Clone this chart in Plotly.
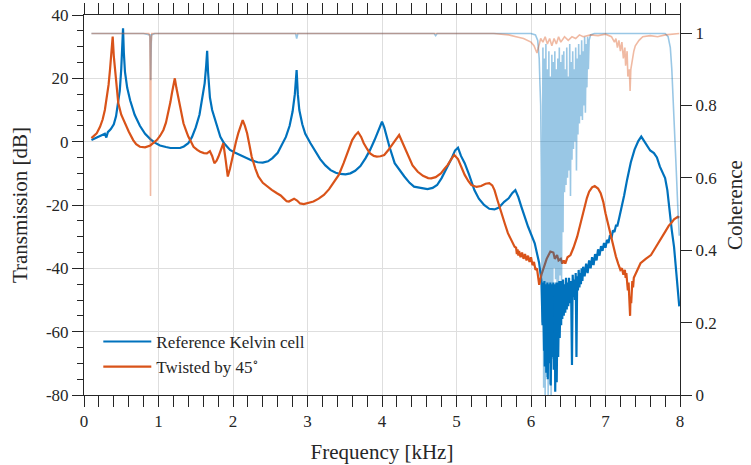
import plotly.graph_objects as go

# ---------------- data ----------------
# Reference Kelvin cell: transmission [dB] vs frequency [kHz]
ref_freq = [0.10, 0.15, 0.20, 0.25, 0.28, 0.30, 0.32, 0.36, 0.40, 0.43, 0.46, 0.48, 0.50, 0.51, 0.524,
            0.535, 0.55, 0.58, 0.62, 0.68, 0.75, 0.82, 0.89, 0.95, 1.02, 1.10, 1.16, 1.22, 1.29, 1.34,
            1.40, 1.45, 1.50, 1.55, 1.59, 1.62, 1.64, 1.653, 1.665, 1.69, 1.72, 1.75, 1.78, 1.83, 1.88,
            1.96, 2.03, 2.10, 2.18, 2.26, 2.33, 2.40, 2.47, 2.53, 2.60, 2.66, 2.71, 2.76, 2.80, 2.83,
            2.854, 2.87, 2.89, 2.93, 2.97, 3.04, 3.10, 3.17, 3.24, 3.31, 3.38, 3.44, 3.51, 3.575, 3.64,
            3.71, 3.78, 3.84, 3.90, 3.95, 4.00, 4.03, 4.07, 4.10, 4.17, 4.25, 4.30, 4.37, 4.43, 4.50,
            4.55, 4.61, 4.68, 4.74, 4.80, 4.87, 4.93, 4.98, 5.02, 5.06, 5.11, 5.17, 5.24, 5.30, 5.37,
            5.44, 5.51, 5.57, 5.64, 5.70, 5.75, 5.79, 5.83, 5.87, 5.96, 6.05, 6.11,
            6.14, 6.145, 6.15, 6.155, 6.16, 6.165, 6.17, 6.175, 6.18, 6.185, 6.19, 6.195, 6.20, 6.205,
            6.21, 6.215, 6.22, 6.225, 6.23, 6.235, 6.24, 6.245, 6.25, 6.255, 6.26, 6.265, 6.27, 6.275,
            6.28, 6.285, 6.29, 6.295, 6.30, 6.305, 6.31, 6.315, 6.32, 6.325, 6.33, 6.335, 6.34, 6.345,
            6.35, 6.355, 6.36, 6.365, 6.37, 6.375, 6.38, 6.385, 6.39, 6.395, 6.40, 6.405,
            6.41, 6.42, 6.43, 6.44, 6.45, 6.46, 6.47, 6.48, 6.49, 6.50, 6.51, 6.52, 6.53, 6.54, 6.55,
            6.56, 6.57, 6.58, 6.59, 6.60, 6.61, 6.62, 6.63, 6.64, 6.65, 6.66, 6.67, 6.68, 6.69, 6.70,
            6.72, 6.74, 6.76, 6.78, 6.80, 6.82, 6.84, 6.86, 6.88, 6.90, 6.92, 6.94, 6.96, 6.98, 7.00,
            7.02, 7.04, 7.06, 7.08, 7.10, 7.12, 7.14, 7.16, 7.18,
            7.20, 7.25, 7.29, 7.34, 7.39, 7.44, 7.48, 7.52, 7.56, 7.60, 7.65, 7.69, 7.73, 7.76, 7.80,
            7.83, 7.86, 7.89, 7.92, 7.94, 7.95, 7.97, 7.99]
ref_tl = [0.5, 1.0, 1.5, 2.0, 2.5, 1.3, 3.0, 4.0, 5.5, 8.0, 12.0, 16.0, 23.0, 28.0, 35.8,
          28.0, 22.0, 17.0, 13.0, 8.5, 5.0, 2.5, 0.8, -0.3, -1.2, -1.7, -2.0, -2.0, -2.0, -1.5,
          -0.5, 1.5, 4.5, 8.5, 13.5, 18.5, 24.0, 28.7, 22.0, 14.0, 10.0, 7.5, 5.0, 1.5, -0.5,
          -2.6, -3.5, -4.3, -5.3, -6.0, -6.5, -6.6, -6.2, -5.2, -3.5, -1.0, 1.5, 5.0, 9.5, 15.0,
          22.6, 15.0, 10.0, 5.5, 2.5, -0.5, -3.0, -5.5, -7.5, -9.0, -9.8, -10.2, -10.3, -10.0, -9.2,
          -7.7, -5.2, -2.6, 0.5, 3.5, 6.3, 4.5, 1.0, -1.6, -6.8, -9.5, -11.0, -13.0, -14.2, -14.5,
          -14.8, -15.0, -14.6, -13.7, -11.5, -8.4, -5.5, -2.8, -1.9, -4.5, -6.8, -10.5, -15.3, -18.0, -20.0,
          -21.2, -21.4, -20.8, -19.0, -17.9, -16.2, -15.3, -17.5, -20.5, -26.8, -32.1, -38.4,
          -44.0, -52, -46, -58, -44.5, -63, -46.5, -66, -44, -71, -46, -60, -45, -73,
          -47, -62, -44.5, -75, -46, -65, -45, -70, -47, -61, -44.5, -77, -46, -64,
          -45, -68, -47, -60, -44.5, -72, -46, -63, -45, -79, -46.5, -70, -44.5, -76,
          -46, -66, -44.5, -68, -46, -60, -44, -62, -45.5, -57, -44, -58,
          -45, -56, -43.5, -55, -45, -54, -43, -53, -44.5, -52, -43, -51, -44, -50, -70.5,
          -42, -49, -43.5, -50, -41.5, -68, -42.5, -47, -40.5, -46, -41.5, -45, -40, -44, -39.5,
          -42.5, -38.5, -41.5, -37.5, -40, -36.5, -39, -35.5, -37.5, -34, -36, -33, -34.5, -32, -33.5,
          -31, -32, -29.5, -30.5, -28, -28.5, -26.5, -26.5, -24.5,
          -22.6, -17.0, -12.0, -6.5, -2.5, 0.2, 1.6, 0.2, -1.6, -2.8, -3.6, -5.0, -7.9, -9.5, -11.5,
          -15.3, -22.6, -28.0, -33.2, -38.0, -40.0, -46.8, -52.0]

# Twisted by 45 degrees: transmission [dB] vs frequency [kHz]
tw_freq = [0.10, 0.17, 0.215, 0.25, 0.28, 0.31, 0.33, 0.35, 0.37, 0.385, 0.40, 0.417, 0.44, 0.46, 0.50,
           0.53, 0.57, 0.60, 0.66, 0.70, 0.75, 0.82, 0.89, 0.93, 0.977, 1.02, 1.066, 1.10, 1.13, 1.16,
           1.18, 1.20, 1.219, 1.24, 1.27, 1.30, 1.335, 1.37, 1.40, 1.44, 1.47, 1.52, 1.56, 1.61, 1.65,
           1.69, 1.72, 1.75, 1.78, 1.805, 1.84, 1.87, 1.90, 1.93, 1.96, 2.00, 2.04, 2.07, 2.10, 2.13,
           2.16, 2.19, 2.22, 2.25, 2.30, 2.34, 2.40, 2.46, 2.52, 2.59, 2.64, 2.68, 2.72, 2.75, 2.79,
           2.82, 2.86, 2.90, 2.95, 3.00, 3.08, 3.15, 3.22, 3.29, 3.35, 3.42, 3.485, 3.55, 3.60, 3.64,
           3.68, 3.72, 3.755, 3.80, 3.84, 3.89, 3.93, 3.98, 4.03, 4.08, 4.12, 4.18, 4.23, 4.28, 4.35,
           4.41, 4.48, 4.55, 4.62, 4.66, 4.72, 4.79, 4.84, 4.88, 4.93, 4.97, 5.02, 5.07, 5.11, 5.16,
           5.20, 5.27, 5.33, 5.39, 5.44, 5.48, 5.51, 5.55, 5.60, 5.65, 5.69, 5.74, 5.78, 5.80, 5.81,
           5.82, 5.83, 5.84, 5.86, 5.88, 5.90, 5.92, 5.94, 5.96, 5.98, 6.00, 6.02, 6.04, 6.06, 6.08,
           6.11, 6.14, 6.17, 6.21, 6.26, 6.30, 6.32, 6.35, 6.37, 6.40, 6.42, 6.44, 6.46, 6.49, 6.53,
           6.57, 6.62, 6.66, 6.71, 6.75, 6.78, 6.82, 6.855, 6.90, 6.935, 6.97, 7.00, 7.04, 7.07, 7.11,
           7.14, 7.17, 7.20, 7.22, 7.24, 7.26, 7.27, 7.28, 7.30, 7.31, 7.32, 7.33, 7.335, 7.345, 7.36,
           7.37, 7.38, 7.40, 7.42, 7.47, 7.54, 7.61, 7.67, 7.74, 7.80, 7.85, 7.88, 7.92, 7.97, 7.99]
tw_tl = [1.1, 2.6, 4.7, 7.0, 10.0, 14.0, 18.0, 23.0, 28.0, 33.2, 27.0, 22.6, 16.0, 12.2, 8.5,
         6.8, 4.5, 3.2, 0.5, -0.8, -1.6, -1.8, -1.2, -0.5, 0.5, 1.8, 3.7, 6.0, 9.0, 12.5,
         15.3, 18.0, 20.0, 17.0, 13.2, 9.5, 5.8, 3.5, 1.6, -0.2, -1.6, -2.6, -3.2, -3.6, -3.7,
         -3.0, -4.5, -6.8, -6.0, -4.7, -2.5, -0.5, -5.5, -11.0, -8.5, -3.7, 0.0, 2.6, 5.0, 6.8,
         5.0, 2.6, -1.0, -4.7, -8.5, -11.0, -13.0, -14.2, -15.2, -16.3, -17.0, -17.9, -18.8, -18.9, -18.5,
         -18.0, -18.6, -19.5, -19.7, -19.4, -18.9, -18.0, -16.8, -15.0, -13.1, -10.5, -6.8, -2.5, 0.5, 2.0,
         3.0, 1.5, -0.5, -2.3, -3.7, -4.5, -4.7, -4.6, -4.2, -2.8, -1.6, 0.5, 2.1, -0.5, -4.7,
         -7.5, -9.5, -10.8, -11.5, -11.6, -11.2, -10.0, -8.5, -7.4, -5.5, -4.2, -5.5, -8.5, -10.5, -12.5,
         -13.7, -14.3, -14.0, -13.3, -13.1, -13.8, -15.3, -18.5, -22.6, -26.0, -28.9, -31.5, -33.2, -33.5, -35.5,
         -34.0, -36.0, -34.5, -36.5, -35.0, -37.0, -35.5, -37.5, -36.0, -38.0, -36.5, -39.0, -38.0, -40.5, -40.0,
         -45.2, -42.0, -39.5, -37.0, -34.7, -35.0, -37.0, -35.8, -37.5, -37.0, -38.5, -37.5, -38.5, -36.5, -35.8,
         -33.5, -30.0, -26.0, -21.6, -17.8, -15.8, -14.4, -14.0, -14.8, -16.3, -19.0, -22.6, -26.5, -30.0, -33.5,
         -36.3, -38.5, -40.5, -40.0, -42.0, -40.5, -43.0, -41.5, -47.0, -44.5, -51.0, -55.0, -49.0, -51.0, -44.0,
         -46.0, -43.0, -42.0, -40.5, -38.4, -37.0, -35.8, -33.5, -31.0, -28.5, -26.5, -25.8, -24.5, -23.7, -24.0]

# Coherence of the reference cell
ref_coh_freq = [0.10, 0.80, 0.885, 0.895, 0.905, 0.95, 2.84, 2.855, 2.87, 4.70, 4.72, 4.74, 6.00, 6.06,
                6.09, 6.11, 6.12, 6.13, 6.14, 6.15,
                6.16, 6.17, 6.18, 6.19, 6.20, 6.21, 6.22, 6.23, 6.24, 6.25, 6.26, 6.27, 6.28, 6.29, 6.30,
                6.31, 6.32, 6.33, 6.34, 6.35, 6.36, 6.37, 6.38, 6.39, 6.40, 6.41, 6.42, 6.43, 6.44, 6.45,
                6.46, 6.47, 6.48, 6.49, 6.50, 6.51, 6.52, 6.53, 6.54, 6.55, 6.56, 6.57, 6.58, 6.59, 6.60,
                6.61, 6.62, 6.63, 6.64, 6.65, 6.66, 6.67, 6.68, 6.69, 6.70, 6.71, 6.72, 6.73, 6.74, 6.75,
                6.76, 6.77, 6.78, 6.80, 6.85, 7.80, 7.84, 7.87, 7.89, 7.91, 7.93, 7.95, 7.97, 7.99]
ref_coh = [0.999, 0.999, 0.995, 0.87, 0.995, 0.999, 0.999, 0.985, 0.999, 0.999, 0.993, 0.999, 0.999, 0.995,
           0.98, 0.93, 0.86, 0.80, 0.60, 0.20,
           0.96, 0.02, 0.93, 0.0, 0.97, 0.05, 0.90, 0.0, 0.95, 0.03, 0.88, 0.0, 0.94, 0.10, 0.92,
           0.35, 0.95, 0.32, 0.90, 0.30, 0.93, 0.31, 0.96, 0.33, 0.92, 0.30, 0.94, 0.45, 0.95, 0.56,
           0.90, 0.58, 0.96, 0.60, 0.88, 0.62, 0.97, 0.55, 0.92, 0.65, 0.95, 0.68, 0.90, 0.70, 0.96,
           0.62, 0.93, 0.72, 0.97, 0.75, 0.94, 0.77, 0.98, 0.76, 0.95, 0.80, 0.99, 0.78, 0.97, 0.85,
           0.99, 0.90, 0.98, 0.995, 0.999, 0.999, 0.99, 0.96, 0.90, 0.82, 0.72, 0.62, 0.52, 0.44]

# Coherence of the twisted cell
tw_coh_freq = [0.10, 0.87, 0.885, 0.893, 0.90, 0.91, 5.50, 5.70, 5.80, 5.90, 6.00, 6.04, 6.07, 6.08,
               6.10, 6.13, 6.16, 6.19, 6.22, 6.25, 6.28, 6.31, 6.34, 6.37, 6.40, 6.45, 6.50, 6.55, 6.60,
               6.65, 6.70, 6.80, 6.90, 7.00, 7.08, 7.12, 7.14, 7.16, 7.18, 7.20, 7.22, 7.24, 7.26, 7.27,
               7.29, 7.30, 7.32, 7.33, 7.34, 7.36, 7.38, 7.40, 7.45, 7.50, 7.60, 7.70, 7.80, 7.99]
tw_coh = [0.999, 0.999, 0.99, 0.55, 0.97, 0.999, 0.999, 0.995, 0.99, 0.985, 0.975, 0.965, 0.95, 0.945,
          0.96, 0.985, 0.975, 0.99, 0.97, 0.985, 0.965, 0.985, 0.97, 0.99, 0.975, 0.99, 0.98, 0.99, 0.985,
          0.995, 0.99, 0.995, 0.993, 0.997, 0.99, 0.975, 0.985, 0.96, 0.98, 0.95, 0.975, 0.93, 0.96, 0.91,
          0.95, 0.88, 0.90, 0.84, 0.90, 0.93, 0.95, 0.965, 0.98, 0.99, 0.993, 0.99, 0.995, 0.999]

x_ticks = [0, 1, 2, 3, 4, 5, 6, 7, 8]
y_ticks = [-80, -60, -40, -20, 0, 20, 40]
y_ticktext = ["-80", "-60", "-40", "-20", "0", "20", "40"]
coh_ticks = [0, 0.2, 0.4, 0.6, 0.8, 1.0]
coh_ticktext = ["0", "0.2", "0.4", "0.6", "0.8", "1"]

# ---------------- figure ----------------
BLUE = "#0072BD"
ORANGE = "#D95319"
AXC = "#262626"
FONT = "Liberation Serif, Times New Roman, DejaVu Serif, serif"

fig = go.Figure()
fig.add_trace(go.Scatter(x=ref_freq, y=ref_tl, mode="lines", name="Reference Kelvin cell",
                         line=dict(color=BLUE, width=2.2), yaxis="y"))
fig.add_trace(go.Scatter(x=tw_freq, y=tw_tl, mode="lines", name="Twisted by 45<sup>∘</sup>",
                         line=dict(color=ORANGE, width=2.2), yaxis="y"))
fig.add_trace(go.Scatter(x=ref_coh_freq, y=ref_coh, mode="lines", showlegend=False,
                         line=dict(color="rgba(0,114,189,0.4)", width=1.6), yaxis="y2"))
fig.add_trace(go.Scatter(x=tw_coh_freq, y=tw_coh, mode="lines", showlegend=False,
                         line=dict(color="rgba(217,83,25,0.4)", width=1.6), yaxis="y2"))

fig.update_layout(
    width=751, height=465,
    margin=dict(l=84, r=71, t=15, b=70, autoexpand=False),
    paper_bgcolor="white", plot_bgcolor="white",
    font=dict(family=FONT, size=17, color=AXC),
    showlegend=True,
    legend=dict(x=0.024, y=0.187, xanchor="left", yanchor="top",
                bgcolor="rgba(255,255,255,0)", borderwidth=0,
                font=dict(family=FONT, size=17, color=AXC),
                itemwidth=48, tracegroupgap=0),
    xaxis=dict(range=[0, 8], tickvals=x_ticks, ticktext=[str(v) for v in x_ticks], automargin=False,
               showline=True, linecolor=AXC, linewidth=1, mirror="allticks",
               ticks="outside", ticklen=11, tickwidth=1, tickcolor=AXC,
               minor=dict(dtick=0.2, ticks="outside", ticklen=6, tickwidth=1, tickcolor=AXC, showgrid=False),
               showgrid=True, gridcolor="#DEDEDE", gridwidth=1, zeroline=False,
               title=dict(text="Frequency [kHz]", font=dict(family=FONT, size=21), standoff=13),
               tickfont=dict(family=FONT, size=17)),
    yaxis=dict(range=[-80, 40], tickvals=y_ticks, ticktext=y_ticktext, automargin=False,
               showline=True, linecolor=AXC, linewidth=1, mirror=False,
               ticks="outside", ticklen=11, tickwidth=1, tickcolor=AXC,
               minor=dict(dtick=5, ticks="outside", ticklen=6, tickwidth=1, tickcolor=AXC, showgrid=False),
               showgrid=True, gridcolor="#DEDEDE", gridwidth=1, zeroline=False,
               title=dict(text="Transmission [dB]", font=dict(family=FONT, size=21), standoff=12),
               tickfont=dict(family=FONT, size=17)),
    yaxis2=dict(range=[0, 1.05], overlaying="y", side="right", tickvals=coh_ticks, ticktext=coh_ticktext,
                automargin=False,
                showline=True, linecolor=AXC, linewidth=1,
                ticks="outside", ticklen=11, tickwidth=1, tickcolor=AXC,
                showgrid=False, zeroline=False,
                title=dict(text="Coherence", font=dict(family=FONT, size=21), standoff=11),
                tickfont=dict(family=FONT, size=17)),
)

fig.write_html("out.html", config={"displayModeBar": False},
               post_script="document.body.style.margin='0px';document.body.style.overflow='hidden';")
